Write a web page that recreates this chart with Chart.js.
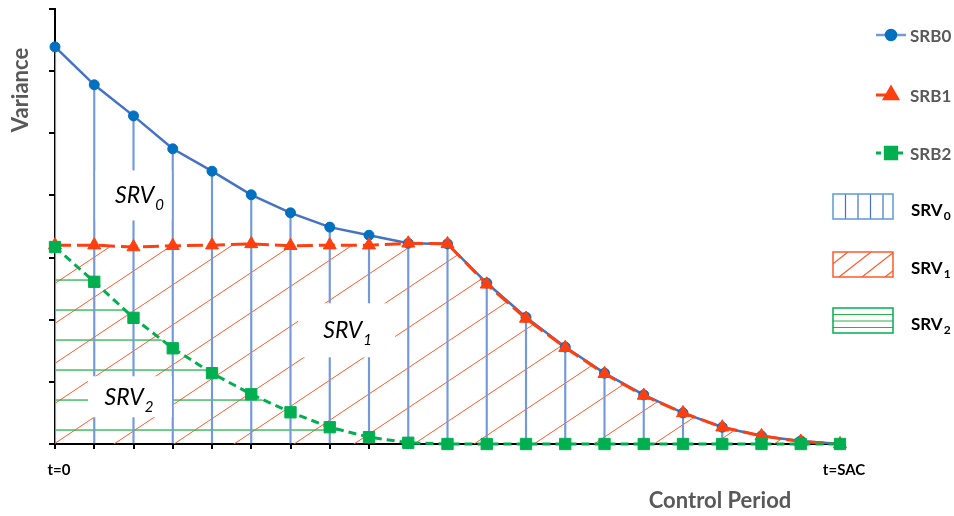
<!DOCTYPE html>
<html>
<head>
<meta charset="utf-8">
<script src="https://cdn.jsdelivr.net/npm/chart.js@4.4.1/dist/chart.umd.min.js"></script>
<style>
  html, body { margin: 0; padding: 0; background: #fff; }
  canvas { display: block; }
</style>
</head>
<body>
<canvas id="srvChart" width="954" height="516"></canvas>
<script>
const periodLabels = ['t=0', '', '', '', '', '', '', '', '', '', '', '', '', '', '', '', '', '', '', '', 't=SAC'];
const srb0 = [6.39, 5.78, 5.28, 4.75, 4.39, 4.01, 3.72, 3.49, 3.36, 3.23, 3.22, 2.59, 2.04, 1.56, 1.14, 0.79, 0.50, 0.27, 0.13, 0.05, 0];
const srb1 = [3.20, 3.20, 3.17, 3.19, 3.20, 3.22, 3.19, 3.20, 3.20, 3.23, 3.22, 2.57, 2.02, 1.55, 1.13, 0.78, 0.50, 0.27, 0.13, 0.04, 0];
const srb2 = [3.17, 2.61, 2.03, 1.54, 1.14, 0.80, 0.51, 0.27, 0.11, 0.02, 0, 0, 0, 0, 0, 0, 0, 0, 0, 0, 0];
const seriesNames = ['SRB0', 'SRB1', 'SRB2'];
const regionNames = [['SRV', '0'], ['SRV', '1'], ['SRV', '2']];
const varianceMax = 7;

const BLUE = '#4472c4';
const BLUE_PT = '#0070c0';
const BLUE_HATCH = '#7399db';
const RED = '#ff3f0f';
const RED_HATCH = '#ff5a2a';
const GREEN = '#00b050';
const GREEN_HATCH = '#2bb24f';
const GREY = '#595959';

// diagonal hatch for SRV1 (anchored to the canvas origin)
function redHatch() {
  const c = document.createElement('canvas');
  c.width = 60; c.height = 40;
  const g = c.getContext('2d');
  g.strokeStyle = RED_HATCH;
  g.lineWidth = 1;
  [-1, 0, 1].forEach((m) => {
    g.beginPath();
    g.moveTo(-3, 42 + 40 * m);
    g.lineTo(63, -2 + 40 * m);
    g.stroke();
  });
  return g.createPattern(c, 'repeat');
}

// horizontal hatch for SRV2
function greenHatch() {
  const c = document.createElement('canvas');
  c.width = 20; c.height = 30;
  const g = c.getContext('2d');
  g.fillStyle = GREEN_HATCH;
  g.fillRect(0, 9.4, 20, 1.3);
  return g.createPattern(c, 'repeat');
}

function drawSub(ctx, parts, cx, baseline, mainFont, subFont, drop, color) {
  ctx.save();
  ctx.fillStyle = color;
  ctx.textBaseline = 'alphabetic';
  ctx.font = mainFont;
  const w1 = ctx.measureText(parts[0]).width;
  ctx.font = subFont;
  const w2 = ctx.measureText(parts[1]).width;
  const left = cx === null ? null : cx - (w1 + w2 + 1) / 2;
  return { left, w1, w2, draw(x0) {
    ctx.font = mainFont;
    ctx.textAlign = 'left';
    ctx.fillText(parts[0], x0, baseline);
    ctx.font = subFont;
    ctx.fillText(parts[1], x0 + w1 + 1, baseline + drop);
    ctx.restore();
  } };
}

const srvExtras = {
  id: 'srvExtras',
  afterDatasetsDraw(chart) {
    const { ctx, scales: { x, y } } = chart;
    // region labels on white boxes, placed in (period, variance) units
    const labels = [
      { name: regionNames[0], at: [2.0, 4.0], w: 76, h: 50, dx: 6 },
      { name: regionNames[1], at: [7.43, 1.83], w: 97, h: 54, dx: 1 },
      { name: regionNames[2], at: [1.91, 0.76], w: 84, h: 41, dx: -1 }
    ];
    labels.forEach((l) => {
      const px = x.getPixelForValue(l.at[0]);
      const py = y.getPixelForValue(l.at[1]);
      ctx.fillStyle = '#fff';
      ctx.fillRect(px - l.w / 2, py - l.h / 2, l.w, l.h);
      const t = drawSub(ctx, l.name, px + l.dx, py + 8, 'italic 23px Lato', 'italic 15px Lato', 7, '#000');
      t.draw(t.left);
    });
  },
  afterDraw(chart) {
    const { ctx } = chart;
    const ds = chart.data.datasets;

    // axis titles
    ctx.save();
    ctx.fillStyle = GREY;
    ctx.font = 'bold 22px Lato';
    ctx.textAlign = 'center';
    ctx.textBaseline = 'alphabetic';
    ctx.fillText('Control Period', 720, 508);
    ctx.translate(28, 90);
    ctx.rotate(-Math.PI / 2);
    ctx.fillText('Variance', 0, 0);
    ctx.restore();

    // legend: series
    const rows = [35, 95, 153];
    [1, 2, 3].forEach((di, i) => {
      const d = ds[di];
      const yy = rows[i];
      ctx.save();
      ctx.strokeStyle = i === 0 ? BLUE_HATCH : d.borderColor;
      ctx.lineWidth = i === 0 ? 2.5 : 3;
      ctx.beginPath();
      if (i === 0) { ctx.moveTo(876, yy); ctx.lineTo(906, yy); }
      if (i === 1) { ctx.moveTo(876, yy); ctx.lineTo(893, yy); }
      if (i === 2) { ctx.moveTo(876, yy); ctx.lineTo(881, yy); ctx.moveTo(886, yy); ctx.lineTo(903, yy); }
      ctx.stroke();
      ctx.fillStyle = d.pointBackgroundColor;
      ctx.strokeStyle = d.pointBorderColor;
      Chart.helpers.drawPoint(ctx, { pointStyle: d.pointStyle, radius: d.pointRadius, rotation: 0, borderWidth: 1 }, i === 0 ? 891 : 891, yy);
      ctx.fillStyle = GREY;
      ctx.font = 'bold 17px Lato';
      ctx.textAlign = 'left';
      ctx.textBaseline = 'alphabetic';
      ctx.fillText(seriesNames[i], 910, yy + 7);
      ctx.restore();
    });

    // legend: regions
    const boxTops = [194, 252, 308];
    const bx = 833, bw = 60, bh = 25;
    boxTops.forEach((top, i) => {
      ctx.save();
      ctx.fillStyle = '#fff';
      ctx.fillRect(bx, top, bw, bh);
      ctx.beginPath();
      ctx.rect(bx, top, bw, bh);
      ctx.clip();
      ctx.lineWidth = 1.2;
      if (i === 0) {
        ctx.strokeStyle = BLUE;
        [845.5, 858, 870.5, 883].forEach((vx) => { ctx.beginPath(); ctx.moveTo(vx, top); ctx.lineTo(vx, top + bh); ctx.stroke(); });
      } else if (i === 1) {
        ctx.strokeStyle = RED_HATCH;
        for (let sx = bx - 40; sx < bx + bw + 10; sx += 23) {
          ctx.beginPath(); ctx.moveTo(sx, top + bh); ctx.lineTo(sx + 32, top); ctx.stroke();
        }
      } else {
        ctx.strokeStyle = GREEN_HATCH;
        [314.5, 321, 327.5].forEach((hy) => { ctx.beginPath(); ctx.moveTo(bx, hy); ctx.lineTo(bx + bw, hy); ctx.stroke(); });
      }
      ctx.restore();
      ctx.save();
      ctx.lineWidth = 1.5;
      ctx.strokeStyle = i === 0 ? '#5b9bd5' : (i === 1 ? RED_HATCH : GREEN);
      ctx.strokeRect(bx, top, bw, bh);
      ctx.restore();
      const t = drawSub(ctx, regionNames[i], null, top + 22, 'bold 17px Lato', 'bold 12px Lato', 4, '#000');
      t.draw(911);
    });
  }
};

const ctx = document.getElementById('srvChart').getContext('2d');

new Chart(ctx, {
  type: 'line',
  data: {
    labels: periodLabels,
    datasets: [
      {
        type: 'bar',
        label: 'SRV0',
        data: srb0,
        backgroundColor: BLUE_HATCH,
        barThickness: 1.5,
        order: 4
      },
      {
        label: 'SRB0',
        data: srb0,
        borderColor: BLUE,
        borderWidth: 2.5,
        pointStyle: 'circle',
        pointRadius: 5,
        pointBackgroundColor: BLUE_PT,
        pointBorderColor: BLUE_PT,
        pointBorderWidth: 1,
        fill: false,
        tension: 0,
        clip: false,
        order: 3
      },
      {
        label: 'SRB1',
        data: srb1,
        borderColor: RED,
        borderWidth: 3,
        borderDash: [16, 6],
        pointStyle: 'triangle',
        pointRadius: 7.5,
        pointBackgroundColor: RED,
        pointBorderColor: RED,
        pointBorderWidth: 1,
        backgroundColor: redHatch(),
        fill: 'origin',
        tension: 0,
        clip: false,
        order: 2
      },
      {
        label: 'SRB2',
        data: srb2,
        borderColor: GREEN,
        borderWidth: 3,
        borderDash: [8, 5],
        pointStyle: 'rect',
        pointRadius: 8,
        pointBackgroundColor: GREEN,
        pointBorderColor: GREEN,
        pointBorderWidth: 1,
        backgroundColor: greenHatch(),
        fill: 'origin',
        tension: 0,
        clip: false,
        order: 1
      }
    ]
  },
  options: {
    responsive: false,
    animation: false,
    devicePixelRatio: 1,
    layout: { padding: { left: 0, right: 114, top: 9, bottom: 0 } },
    plugins: {
      legend: { display: false },
      tooltip: { enabled: false },
      filler: { drawTime: 'beforeDatasetsDraw' }
    },
    scales: {
      x: {
        type: 'category',
        offset: false,
        grid: { offset: false, drawOnChartArea: false, drawTicks: true, tickLength: 5, color: '#000', lineWidth: 2 },
        border: { display: true, color: '#000', width: 2 },
        ticks: {
          autoSkip: false,
          maxRotation: 0,
          padding: 12,
          labelOffset: 4,
          color: '#000',
          font: { family: 'Lato', size: 15, weight: 'bold' }
        },
        afterFit: (s) => { s.height = 72; }
      },
      y: {
        min: 0,
        max: varianceMax,
        grid: { drawOnChartArea: false, drawTicks: true, tickLength: 6, color: '#000', lineWidth: 2 },
        border: { display: true, color: '#000', width: 2 },
        ticks: { display: false, stepSize: 1 },
        afterFit: (s) => { s.width = 55; }
      }
    }
  },
  plugins: [srvExtras]
});
</script>
</body>
</html>
